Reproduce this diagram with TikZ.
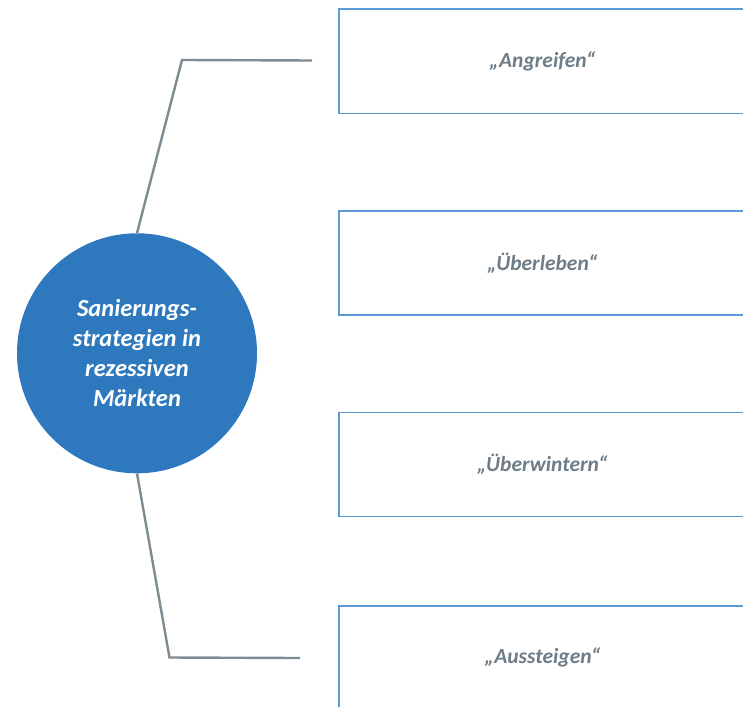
\documentclass[tikz,border=0pt]{standalone}
\usepackage{fontspec}
\setmainfont{Carlito}
\definecolor{circblue}{HTML}{2E79BE}
\definecolor{boxblue}{HTML}{5B9BD5}
\definecolor{linegray}{HTML}{7D8B93}
\definecolor{textgray}{HTML}{6E7D87}
\tikzset{
  hub/.style={circle, fill=circblue, draw=none, minimum size=240pt, inner sep=0pt,
    text=white, align=center, font=\fontsize{24.5}{30}\selectfont\bfseries\itshape},
  stratbox/.style={rectangle, draw=boxblue, line width=1.6pt, minimum width=407pt,
    minimum height=104pt, inner sep=0pt, text=textgray,
    font=\fontsize{21.5}{24}\selectfont\bfseries\itshape},
  branch/.style={draw=linegray, line width=2.4pt}
}
\begin{document}
\begin{tikzpicture}[x=1pt,y=-1pt]
\useasboundingbox (0,0) rectangle (743,706);
\clip (0,0) rectangle (743,706);
\fill[white] (0,0) rectangle (743,706);
\node[hub] (c) at (137,353.3) {Sanierungs-\\strategien in\\rezessiven\\Märkten};
\node[stratbox] (b1) at (542.5,61.3) {„Angreifen“};
\node[stratbox] (b2) at (542.5,263) {„Überleben“};
\node[stratbox] (b3) at (542.5,464.6) {„Überwintern“};
\node[stratbox] (b4) at (542.5,657.7) {„Aussteigen“};
\coordinate (k1) at (182,60);
\coordinate (e1) at (312,60.5);
\coordinate (k2) at (169.5,657.5);
\coordinate (e2) at (300,658);
\draw[branch] (c.north) -- (k1) -- (e1);
\draw[branch] (c.south) -- (k2) -- (e2);
\end{tikzpicture}
\end{document}
